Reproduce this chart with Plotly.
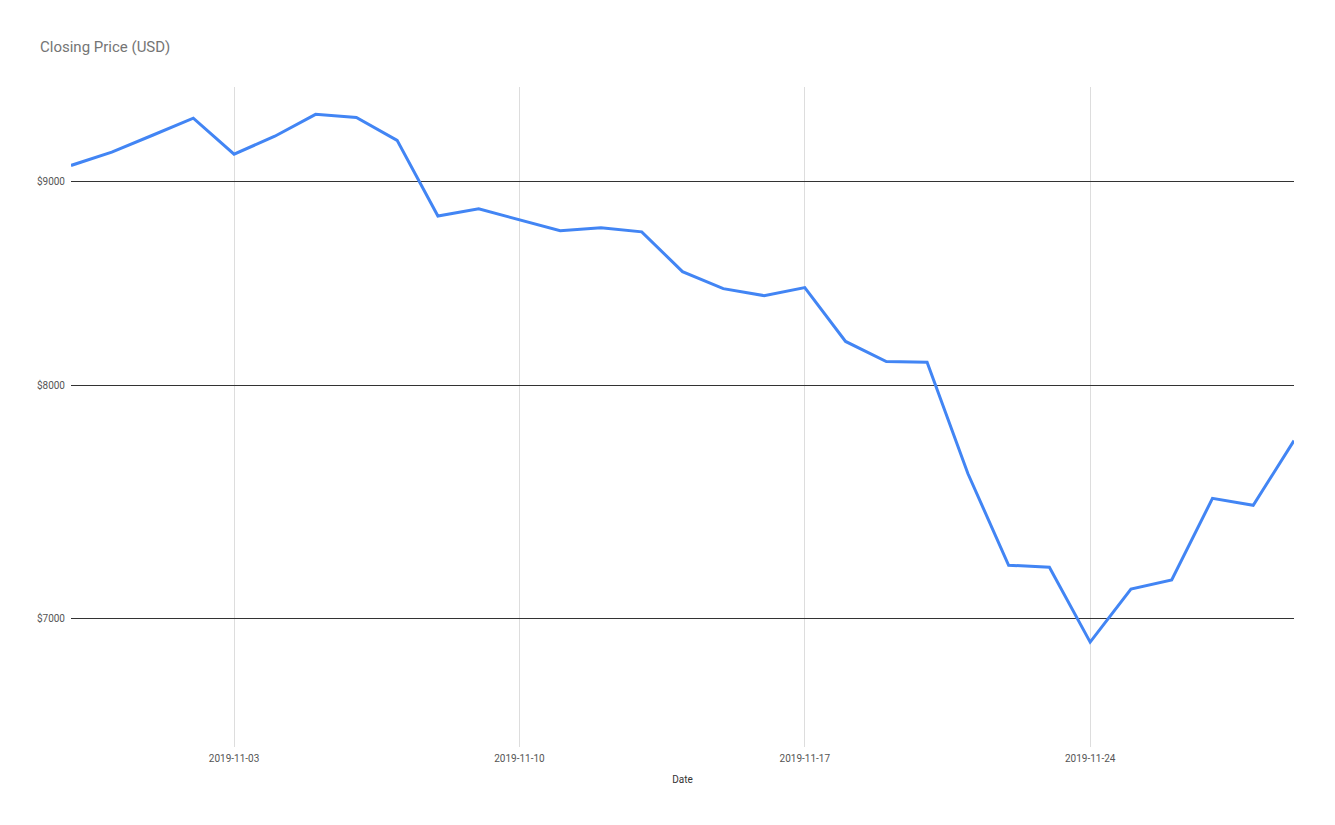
import math
import plotly.graph_objects as go

dates = ["2019-10-30", "2019-10-31", "2019-11-01", "2019-11-02", "2019-11-03", "2019-11-04",
         "2019-11-05", "2019-11-06", "2019-11-07", "2019-11-08", "2019-11-09", "2019-11-10",
         "2019-11-11", "2019-11-12", "2019-11-13", "2019-11-14", "2019-11-15", "2019-11-16",
         "2019-11-17", "2019-11-18", "2019-11-19", "2019-11-20", "2019-11-21", "2019-11-22",
         "2019-11-23", "2019-11-24", "2019-11-25", "2019-11-26", "2019-11-27", "2019-11-28",
         "2019-11-29"]
close_usd = [9081, 9151, 9240, 9331, 9140, 9235, 9352, 9335, 9213, 8821, 8857, 8801,
             8746, 8761, 8741, 8543, 8460, 8426, 8465, 8207, 8113, 8109, 7607, 7216,
             7208, 6904, 7118, 7155, 7499, 7469, 7752]

x_tick_vals = ["2019-11-03", "2019-11-10", "2019-11-17", "2019-11-24"]
y_tick_vals = [7000, 8000, 9000]
y_tick_text = ["$7000", "$8000", "$9000"]

W, H = 1319, 809

fig = go.Figure()
fig.add_trace(go.Scatter(x=dates, y=close_usd, mode="lines",
                         line=dict(color="#4285F4", width=3), showlegend=False))

fig.update_layout(
    width=W, height=H,
    paper_bgcolor="white", plot_bgcolor="white",
    margin=dict(l=63, r=33, t=79, b=70),
    font=dict(family="Roboto, Arial, sans-serif", color="#444444", size=10),
    title=dict(text="Closing Price (USD)", x=32/W, xanchor="left", y=1-39/H, yanchor="middle",
               font=dict(size=15, color="#757575", family="Roboto, Arial, sans-serif")),
    xaxis=dict(type="date", range=[dates[0], dates[-1]], tickvals=x_tick_vals,
               ticktext=x_tick_vals, showgrid=True, gridcolor="#dddddd", gridwidth=1,
               zeroline=False, showline=False, ticks="", ticklabelstandoff=4,
               tickfont=dict(size=10, color="#555555"),
               title=dict(text="Date", font=dict(size=10, color="#333333"), standoff=12)),
    yaxis=dict(type="log", range=[math.log10(6500), math.log10(9500)], tickvals=y_tick_vals,
               ticktext=y_tick_text, showgrid=True, gridcolor="#333333", gridwidth=1,
               zeroline=False, showline=False,
               ticks="", ticklabelstandoff=5, tickfont=dict(size=10, color="#555555")),
)

fig.write_html("out.html")
